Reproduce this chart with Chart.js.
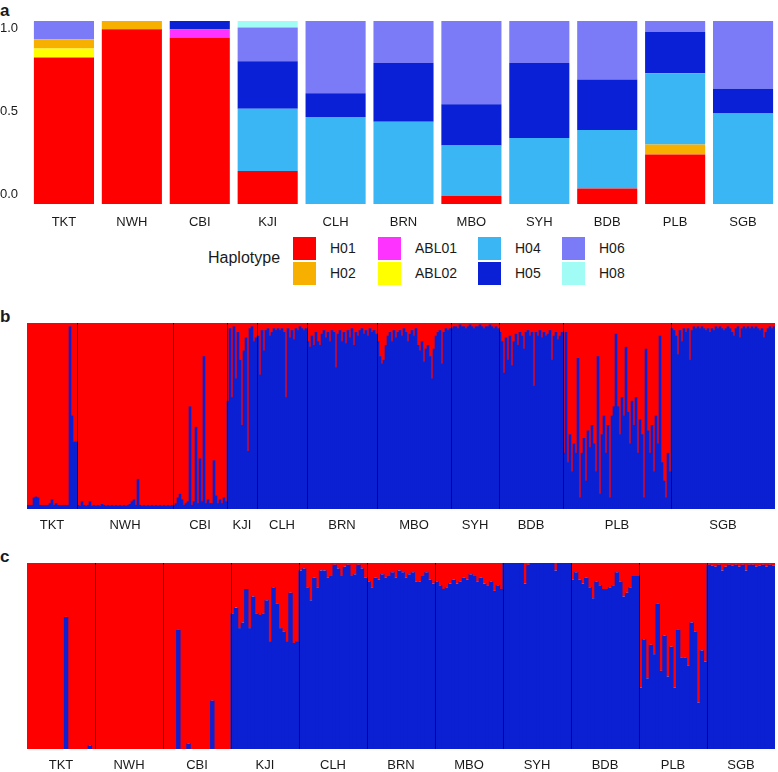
<!DOCTYPE html>
<html>
<head>
<meta charset="utf-8">
<script src="https://cdn.jsdelivr.net/npm/chart.js@4.4.1/dist/chart.umd.min.js"></script>
<style>
  body { margin: 0; background: #fff; font-family: "Liberation Sans", Arial, sans-serif; color: #1a1a1a; }
  #wrap { position: relative; width: 778px; height: 772px; overflow: hidden; }
  #wrap canvas { position: absolute; left: 0; }
  .tag { position: absolute; left: 0; font-weight: bold; font-size: 17px; line-height: 17px; }
  .lg { position: absolute; font-size: 14px; line-height: 23px; height: 23px; white-space: nowrap; }
  .sw { position: absolute; width: 23px; height: 23px; }
</style>
</head>
<body>
<div id="wrap">
  <div class="tag" style="top:2px">a</div>
  <div class="tag" style="top:308px">b</div>
  <div class="tag" style="top:548px">c</div>
  <canvas id="chart-a" width="778" height="232" style="top:0"></canvas>
  <div id="legend-a"></div>
  <canvas id="chart-b" width="778" height="240" style="top:300px"></canvas>
  <canvas id="chart-c" width="778" height="232" style="top:540px"></canvas>
</div>
<script>
// ---- panel a: haplotype frequencies per population
const pops = ['TKT', 'NWH', 'CBI', 'KJI', 'CLH', 'BRN', 'MBO', 'SYH', 'BDB', 'PLB', 'SGB'];
const h01   = [0.80, 0.955, 0.91, 0.18, 0, 0, 0.045, 0, 0.085, 0.27, 0];
const abl02 = [0.05, 0, 0, 0, 0, 0, 0, 0, 0, 0, 0];
const h02   = [0.05, 0.045, 0, 0, 0, 0, 0, 0, 0, 0.055, 0];
const abl01 = [0, 0, 0.045, 0, 0, 0, 0, 0, 0, 0, 0];
const h04   = [0, 0, 0, 0.34, 0.475, 0.45, 0.275, 0.36, 0.32, 0.39, 0.495];
const h05   = [0, 0, 0.045, 0.26, 0.13, 0.32, 0.225, 0.41, 0.275, 0.225, 0.135];
const h06   = [0.10, 0, 0, 0.185, 0.395, 0.23, 0.455, 0.23, 0.32, 0.06, 0.37];
const h08   = [0, 0, 0, 0.035, 0, 0, 0, 0, 0, 0, 0];
const yTicksA = [0, 0.5, 1];

// ---- panel b: blue-cluster membership per individual (red = 1 - blue)
const bTKT = [0.02,0.02,0.02,0.06,0.065,0.06,0.02,0.02,0.02,0.02,0.02,0.03,0.05,0.02,0.03,0.02,0.02,0.02,0.02,0.02,0.02,0.98,0.5,0.36,0.36];
const bNWH = [0.02,0.015,0.04,0.02,0.015,0.02,0.04,0.015,0.02,0.015,0.02,0.015,0.025,0.02,0.015,0.02,0.015,0.02,0.015,0.02,
              0.015,0.02,0.015,0.02,0.015,0.02,0.025,0.04,0.05,0.02,0.16,0.02,0.015,0.02,0.015,0.02,0.015,0.02,0.015,0.02,
              0.015,0.02,0.015,0.02,0.015,0.02,0.015,0.02];
const bCBI = [0.02,0.03,0.06,0.08,0.05,0.02,0.03,0.04,0.55,0.02,0.04,0.44,0.03,0.27,0.04,0.82,0.03,0.05,0.03,0.03,0.26,0.07,0.03,0.05,0.03,0.06,0.04];
const bKJI = [0.58,0.97,0.6,0.98,0.7,0.95,0.8,0.45,0.85,0.92,0.31,0.97,0.98,0.9,0.92];
const bCLH = [0.93,0.72,0.96,0.85,0.96,0.97,0.93,0.95,0.97,0.96,0.97,0.96,0.97,0.95,0.6,0.97,0.92,0.96,0.91,0.97,0.96,0.98,0.97,0.96,0.97];
const bBRN = [0.9,0.87,0.93,0.88,0.95,0.9,0.88,0.94,0.96,0.92,0.95,0.9,0.96,0.95,0.76,0.94,0.96,0.9,0.95,0.89,
              0.96,0.92,0.97,0.88,0.95,0.93,0.96,0.97,0.94,0.96,0.93,0.97,0.95,0.96,0.94];
const bMBO = [0.9,0.82,0.78,0.8,0.88,0.93,0.95,0.9,0.96,0.92,0.95,0.96,0.93,0.97,0.95,0.9,0.94,0.96,0.93,0.97,
              0.88,0.85,0.9,0.79,0.86,0.88,0.82,0.7,0.86,0.93,0.95,0.96,0.78,0.95,0.97,0.96,0.97];
const bSYH = [0.97,0.98,0.98,0.97,0.99,0.98,0.98,0.97,0.98,0.99,0.98,0.97,0.98,0.98,0.99,0.98,0.97,0.98,0.98,0.99,0.98,0.97,0.98,0.97];
const bBDB = [0.95,0.9,0.73,0.92,0.8,0.93,0.77,0.9,0.94,0.88,0.95,0.93,0.86,0.95,0.96,0.93,0.95,0.66,0.95,0.93,
              0.96,0.92,0.95,0.93,0.94,0.96,0.8,0.93,0.95,0.91,0.93,0.95];
const bPLB = [0.3,0.95,0.25,0.4,0.2,0.35,0.3,0.81,0.06,0.3,0.38,0.15,0.42,0.33,0.45,0.35,0.2,0.82,0.08,0.4,
              0.5,0.3,0.45,0.06,0.5,0.55,0.94,0.55,0.4,0.6,0.5,0.87,0.52,0.35,0.58,0.45,0.6,0.3,0.48,0.4,
              0.06,0.86,0.42,0.3,0.45,0.2,0.5,0.35,0.93,0.25,0.15,0.06,0.3,0.2];
const bSGB = [0.97,0.96,0.93,0.83,0.96,0.9,0.97,0.95,0.97,0.8,0.96,0.98,0.97,0.98,0.97,0.98,0.97,0.96,0.97,0.95,
              0.97,0.96,0.98,0.97,0.98,0.97,0.96,0.97,0.98,0.97,0.95,0.93,0.97,0.98,0.92,0.97,0.98,0.97,0.98,0.97,
              0.98,0.97,0.98,0.97,0.96,0.97,0.92,0.95,0.97,0.98,0.97,0.98];

// ---- panel c: 20 individuals per population
const cTKT = [0,0,0,0,0,0,0,0,0,0,0,0.71,0,0,0,0,0,0,0.02,0];
const cNWH = [0,0,0,0,0,0,0,0,0,0,0,0,0,0,0,0,0,0,0,0];
const cCBI = [0,0,0,0,0.64,0,0,0.03,0,0,0,0,0,0,0.26,0,0,0,0,0];
const cKJI = [0.73,0.76,0.65,0.68,0.86,0.65,0.82,0.73,0.72,0.73,0.8,0.58,0.87,0.78,0.65,0.63,0.58,0.84,0.57,0.58];
const cCLH = [0.96,0.97,0.87,0.8,0.92,0.87,0.96,0.96,0.92,0.93,0.99,0.97,0.93,0.98,0.99,0.93,0.94,0.99,0.97,0.92];
const cBRN = [0.9,0.87,0.92,0.91,0.94,0.92,0.93,0.95,0.92,0.96,0.95,0.92,0.94,0.95,0.9,0.9,0.93,0.95,0.91,0.89];
const cMBO = [0.9,0.88,0.86,0.87,0.89,0.91,0.89,0.9,0.92,0.91,0.94,0.93,0.9,0.92,0.89,0.88,0.9,0.85,0.88,0.86];
const cSYH = [1,1,1,1,1,1,0.89,0.99,1,1,1,1,1,1,1,0.96,1,1,1,1];
const cBDB = [0.91,0.95,0.91,0.89,0.92,0.87,0.81,0.9,0.88,0.86,0.86,0.87,0.88,0.95,0.9,0.82,0.84,0.87,0.93,0.93];
const cPLB = [0.33,0.59,0.38,0.56,0.51,0.78,0.42,0.61,0.39,0.55,0.33,0.64,0.49,0.49,0.45,0.68,0.63,0.25,0.53,0.47];
const cSGB = [0.99,0.985,0.98,0.99,0.96,0.98,0.99,0.985,0.99,0.98,0.99,0.96,0.99,0.99,0.98,0.985,0.99,0.98,0.99,0.985];

const FONT = '"Liberation Sans", Arial, sans-serif';
const RED = '#ff0000';
const BLUE = '#0b20d2';

function initHaplotypes() {
  const ctx = document.getElementById('chart-a').getContext('2d');
  // bottom-to-top stacking order as drawn in the figure
  const layers = [
    { label: 'H01', data: h01, color: '#ff0000' },
    { label: 'ABL02', data: abl02, color: '#ffff00' },
    { label: 'H02', data: h02, color: '#f8b000' },
    { label: 'ABL01', data: abl01, color: '#ff33ff' },
    { label: 'H04', data: h04, color: '#3bb6f5' },
    { label: 'H05', data: h05, color: '#0a20d6' },
    { label: 'H06', data: h06, color: '#7b7bf7' },
    { label: 'H08', data: h08, color: '#a2fcf6' }
  ];

  new Chart(ctx, {
    type: 'bar',
    data: {
      labels: pops,
      datasets: layers.map(l => ({
        label: l.label,
        data: l.data,
        backgroundColor: l.color,
        borderWidth: 0,
        categoryPercentage: 1,
        barPercentage: 0.885,
        yAxisID: 'y'
      }))
    },
    options: {
      responsive: false,
      animation: false,
      devicePixelRatio: 1,
      layout: { padding: { top: 21, right: 1, left: 0, bottom: 0 } },
      plugins: { legend: { display: false }, tooltip: { enabled: false } },
      scales: {
        x: {
          stacked: true,
          grid: { display: false, drawTicks: false },
          border: { display: false },
          ticks: { padding: 11, color: '#1a1a1a', font: { family: FONT, size: 13 } },
          afterFit: s => { s.height = 28; }
        },
        y: { display: false, stacked: true, min: 0, max: 1 },
        y2: {
          position: 'left',
          min: -0.0602,
          max: 1.0422,
          grid: { display: false, drawTicks: false },
          border: { display: false },
          afterBuildTicks: ax => { ax.ticks = yTicksA.map(v => ({ value: v })); },
          ticks: {
            padding: 12,
            color: '#1a1a1a',
            font: { family: FONT, size: 13 },
            callback: v => Number(v).toFixed(1)
          },
          afterFit: s => { s.width = 30; }
        }
      }
    }
  });

  // legend: title + 4 columns x 2 rows
  const order = [['H01', 'H02'], ['ABL01', 'ABL02'], ['H04', 'H05'], ['H06', 'H08']];
  const colX = [293, 378, 478, 562];
  const rowY = [237, 262];
  const box = document.getElementById('legend-a');
  let html = `<div class="lg" style="left:208px;top:246px;font-size:16px">Haplotype</div>`;
  order.forEach((col, ci) => col.forEach((name, ri) => {
    const l = layers.find(d => d.label === name);
    html += `<div class="sw" style="left:${colX[ci]}px;top:${rowY[ri]}px;background:${l.color}"></div>`;
    html += `<div class="lg" style="left:${colX[ci] + 37}px;top:${rowY[ri]}px">${name}</div>`;
  }));
  box.innerHTML = html;
}

// STRUCTURE-style barplot with population separators and labels
function initStructure(id, groups, barPct) {
  const ctx = document.getElementById(id).getContext('2d');
  const blue = groups.flatMap(g => g.data);
  const red = blue.map(v => 1 - v);
  const ends = [];
  let n = 0;
  groups.forEach(g => { n += g.data.length; ends.push(n); });

  const popLines = {
    id: 'popLines',
    afterDatasetsDraw(chart) {
      const { ctx, chartArea: a, scales: { x } } = chart;
      const edge = i => (i <= 0 ? a.left : i >= blue.length ? a.right
        : (x.getPixelForValue(i - 1) + x.getPixelForValue(i)) / 2);
      ctx.save();
      ctx.fillStyle = '#141414';
      ends.slice(0, -1).forEach(e => ctx.fillRect(Math.round(edge(e)), a.top, 1, a.bottom - a.top));
      ctx.fillStyle = '#1a1a1a';
      ctx.font = `13px ${FONT}`;
      ctx.textAlign = 'center';
      ctx.textBaseline = 'middle';
      groups.forEach((g, k) => {
        const x0 = edge(k === 0 ? 0 : ends[k - 1]);
        const x1 = edge(ends[k]);
        ctx.fillText(g.name, (x0 + x1) / 2, a.bottom + 16);
      });
      ctx.restore();
    }
  };

  new Chart(ctx, {
    type: 'bar',
    data: {
      labels: blue.map((_, i) => i + 1),
      datasets: [
        { label: 'cluster 2', data: blue, backgroundColor: BLUE, borderWidth: 0, categoryPercentage: 1, barPercentage: barPct },
        { label: 'cluster 1', data: red, backgroundColor: RED, borderWidth: 0, categoryPercentage: 1, barPercentage: barPct }
      ]
    },
    options: {
      responsive: false,
      animation: false,
      devicePixelRatio: 1,
      layout: { padding: { top: 23, right: 3, left: 27, bottom: id === 'chart-b' ? 31 : 23 } },
      plugins: { legend: { display: false }, tooltip: { enabled: false } },
      scales: {
        x: { display: false, stacked: true },
        y: { display: false, stacked: true, min: 0, max: 1 }
      }
    },
    plugins: [popLines]
  });
}

function initAll() {
  initHaplotypes();
  const bData = [bTKT, bNWH, bCBI, bKJI, bCLH, bBRN, bMBO, bSYH, bBDB, bPLB, bSGB];
  const cData = [cTKT, cNWH, cCBI, cKJI, cCLH, cBRN, cMBO, cSYH, cBDB, cPLB, cSGB];
  initStructure('chart-b', pops.map((p, i) => ({ name: p, data: bData[i] })), 1);
  // bars overlap by ~1px so fractional edges leave no light seams
  initStructure('chart-c', pops.map((p, i) => ({ name: p, data: cData[i] })), 1.3);
}

requestAnimationFrame(initAll);
</script>
</body>
</html>
